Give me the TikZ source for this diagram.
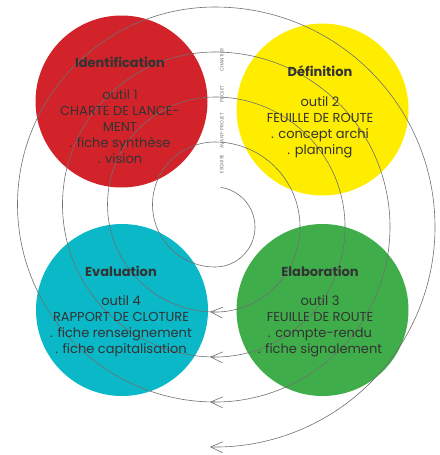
\documentclass[tikz,border=0pt]{standalone}
\usepackage{fontspec}
\setmainfont{Poppins}
\usetikzlibrary{arrows.meta}
\definecolor{idred}{HTML}{D2232A}
\definecolor{defyellow}{HTML}{FFED00}
\definecolor{evalcyan}{HTML}{0AB8C7}
\definecolor{elabgreen}{HTML}{3FAE4A}
\definecolor{inkgray}{HTML}{333333}
\definecolor{linegray}{HTML}{707070}

\begin{document}
\begin{tikzpicture}[x=1pt,y=-1pt,
  phase/.style={circle,minimum size=172pt,inner sep=0pt},
  body/.style={align=center,text=inkgray,font=\fontsize{13}{16}\selectfont},
  title/.style={text=inkgray,font=\fontsize{13}{16}\selectfont\bfseries},
  spiral/.style={draw=linegray,line width=0.6pt},
  turn/.style={spiral,-{Straight Barb[length=12pt,width=11pt]}},
  stage/.style={rotate=90,text=linegray,font=\fontsize{4.8}{5}\selectfont}]
\useasboundingbox (0,0) rectangle (439,455);

% the four phases
\node[phase,fill=idred]     (ident) at (121.5,101.5) {};
\node[phase,fill=defyellow] (defin) at (322.5,109.5) {};
\node[phase,fill=evalcyan]  (evalu) at (122,310) {};
\node[phase,fill=elabgreen] (elabo) at (322.5,310) {};

% spiral: right half-turns around (215,227), left half-turns around (215,204.5)
\draw[spiral] (215,227) ++(-82:40) arc[start angle=-82,end angle=90,radius=40];
\foreach \r in {85,130,175,220}
  \draw[turn] (215,227) ++(-90:\r) arc[start angle=-90,end angle={90+asin(5/\r)},radius=\r];
\foreach \r in {40,85,130,175}
  \draw[spiral] (215,{227+\r}) arc[start angle=90,end angle=270,radius={\r+22.5}];

% stage labels along the top of the spiral
\node[stage] (chantier) at (222,60)  {CHANTIER};
\node[stage] (projet)   at (222,94)  {PROJET};
\node[stage] (avant)    at (222,131) {AVANT-PROJET};
\node[stage] (esquise)  at (222,164) {ESQUISE};

% phase texts
\node[title] (identT) at (120,62) {Identification};
\node[body]  (identB) at (120,126.5) {outil 1\\CHARTE DE LANCE-\\MENT\\. fiche synthèse\\. vision};

\node[title] (definT) at (320,71) {Définition};
\node[body]  (definB) at (320,127) {outil 2\\FEUILLE DE ROUTE\\. concept archi\\. planning};

\node[title] (evaluT) at (121,271) {Evaluation};
\node[body]  (evaluB) at (121,326) {outil 4\\RAPPORT DE CLOTURE\\. fiche renseignement\\. fiche capitalisation};

\node[title] (elaboT) at (320,271) {Elaboration};
\node[body]  (elaboB) at (320,326) {outil 3\\FEUILLE DE ROUTE\\. compte-rendu\\. fiche signalement};
\end{tikzpicture}
\end{document}
